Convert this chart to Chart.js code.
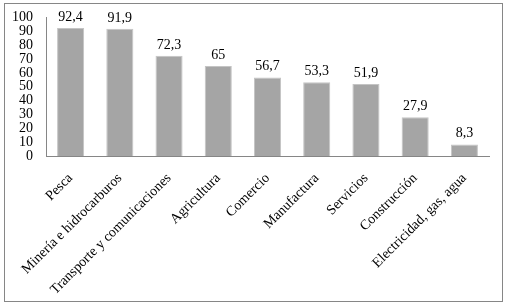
<!DOCTYPE html>
<html>
<head>
<meta charset="utf-8">
<script src="https://cdn.jsdelivr.net/npm/chart.js@4/dist/chart.umd.min.js"></script>
<style>
    body { margin: 0; background: #fff; }
    #frame {
        position: absolute;
        left: 4px;
        top: 3px;
        width: 497px;
        height: 297px;
        border: 1px solid #868686;
    }
    canvas { display: block; }
</style>
</head>
<body>
<div id="frame"><canvas id="chart" width="497" height="297"></canvas></div>
<script>
const categories = [
    "Pesca",
    "Minería e hidrocarburos",
    "Transporte y comunicaciones",
    "Agricultura",
    "Comercio",
    "Manufactura",
    "Servicios",
    "Construcción",
    "Electricidad, gas, agua",
];
const values = [92.4, 91.9, 72.3, 65, 56.7, 53.3, 51.9, 27.9, 8.3];
const yTicks = [0, 10, 20, 30, 40, 50, 60, 70, 80, 90, 100];

const serif = "'Liberation Serif', 'Times New Roman', serif";

// Draw the value on top of each bar, with comma decimals
const valueLabels = {
    id: "valueLabels",
    afterDatasetsDraw(chart) {
        const ctx = chart.ctx;
        const meta = chart.getDatasetMeta(0);
        ctx.save();
        ctx.font = "14px " + serif;
        ctx.fillStyle = "#000";
        ctx.textAlign = "center";
        ctx.textBaseline = "alphabetic";
        meta.data.forEach((bar, i) => {
            const txt = String(values[i]).replace(".", ",");
            ctx.fillText(txt, bar.x, bar.y - 7);
        });
        ctx.restore();
    },
};

const ctx = document.getElementById("chart").getContext("2d");
new Chart(ctx, {
    type: "bar",
    data: {
        labels: categories,
        datasets: [
            {
                data: values,
                backgroundColor: "#a5a5a5",
                borderColor: "#c4c4c4",
                borderWidth: { top: 1, left: 1, right: 1, bottom: 0 },
                categoryPercentage: 1,
                barPercentage: 0.55,
            },
        ],
    },
    options: {
        responsive: false,
        animation: false,
        layout: { padding: { top: 13, right: 13, left: 0, bottom: 0 } },
        plugins: {
            legend: { display: false },
            tooltip: { enabled: false },
        },
        scales: {
            x: {
                grid: { display: false },
                border: { color: "#868686", width: 1 },
                ticks: {
                    color: "#000",
                    font: { family: serif, size: 14 },
                    minRotation: 45,
                    maxRotation: 45,
                    autoSkip: false,
                    padding: 6,
                },
                afterFit(scale) {
                    scale.height = 145;
                },
            },
            y: {
                min: 0,
                max: 100,
                grid: { display: false },
                border: { color: "#868686", width: 1 },
                afterBuildTicks(scale) {
                    scale.ticks = yTicks.map((v) => ({ value: v }));
                },
                ticks: {
                    color: "#000",
                    font: { family: serif, size: 14 },
                    padding: 5,
                    autoSkip: false,
                },
                afterFit(scale) {
                    scale.width = 41;
                },
            },
        },
    },
    plugins: [valueLabels],
});
</script>
</body>
</html>
